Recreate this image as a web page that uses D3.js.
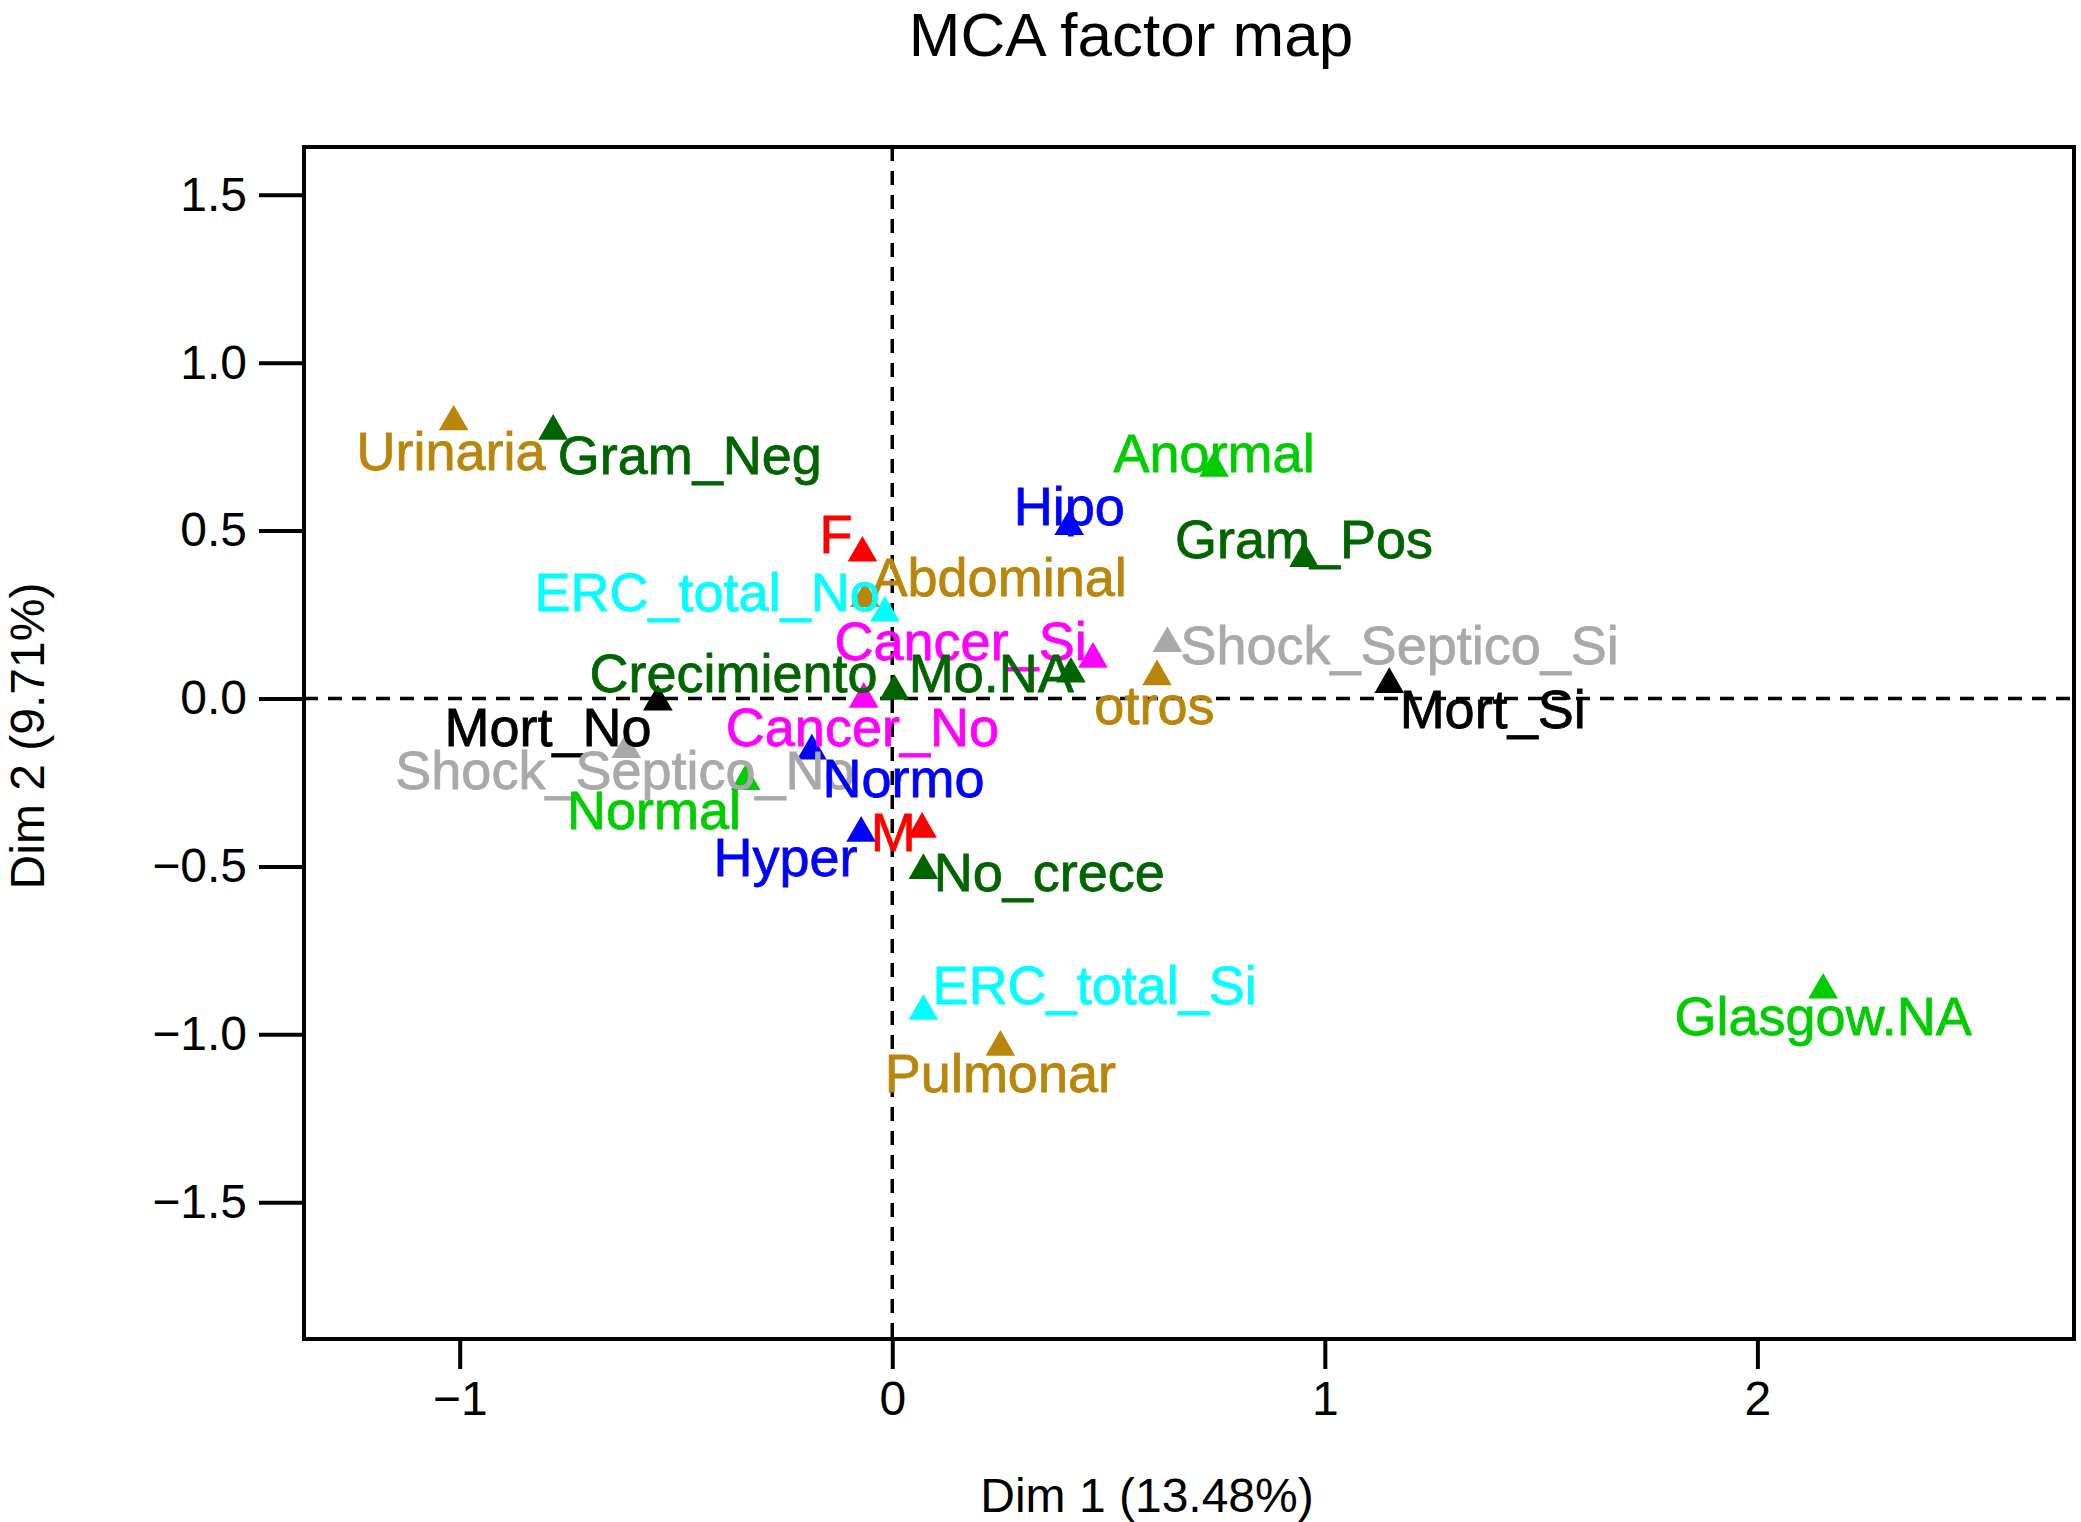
<!DOCTYPE html>
<html lang="en">
<head>
    <meta charset="UTF-8">
    <title>MCA factor map</title>
    <script src="https://d3js.org/d3.v7.min.js"></script>
</head>
<body>
<style>
    body{
        margin: 0;
        background: #fff;
    }
    text{
        font-family: "Liberation Sans", Arial, sans-serif;
    }
</style>

<script>
    // categories of the MCA and their coordinates on Dim 1 / Dim 2
    const categories = ["Urinaria", "Gram_Neg", "Anormal", "Hipo", "Gram_Pos", "F", "Abdominal",
        "ERC_total_No", "Cancer_Si", "Shock_Septico_Si", "Mo.NA", "otros", "Mort_Si", "Crecimiento",
        "Mort_No", "Cancer_No", "Shock_Septico_No", "Normo", "Normal", "Hyper", "M", "No_crece",
        "ERC_total_Si", "Pulmonar", "Glasgow.NA"];
    const variables = ["Foco", "Micro", "Glasgow", "Temp", "Micro", "Sexo", "Foco",
        "ERC", "Cancer", "Shock", "Micro", "Foco", "Mort", "Micro",
        "Mort", "Cancer", "Shock", "Temp", "Glasgow", "Temp", "Sexo", "Micro",
        "ERC", "Foco", "Glasgow"];
    const dim1 = [-1.014, -0.784, 0.744, 0.409, 0.952, -0.069, -0.063,
        -0.017, 0.464, 0.636, 0.413, 0.612, 1.149, 0.005,
        -0.542, -0.066, -0.615, -0.186, -0.339, -0.072, 0.069, 0.072,
        0.072, 0.250, 2.152];
    const dim2 = [0.824, 0.796, 0.686, 0.512, 0.417, 0.433, 0.298,
        0.255, 0.117, 0.164, 0.073, 0.065, 0.042, 0.022,
        -0.010, -0.002, -0.152, -0.156, -0.247, -0.401, -0.389, -0.512,
        -0.931, -1.038, -0.868];
    // where the (auto placed) labels sit, same units
    const labDim1 = [-1.020, -0.468, 0.744, 0.409, 0.952, -0.130, 0.247,
        -0.428, 0.158, 1.173, 0.229, 0.606, 1.388, -0.367,
        -0.796, -0.069, -0.618, 0.026, -0.551, -0.247, 0.002, 0.363,
        0.468, 0.250, 2.152];
    const labDim2 = [0.737, 0.725, 0.733, 0.575, 0.476, 0.492, 0.362,
        0.318, 0.172, 0.160, 0.077, -0.018, -0.030, 0.077,
        -0.085, -0.085, -0.211, -0.235, -0.330, -0.472, -0.397, -0.516,
        -0.852, -1.113, -0.943];

    const xTicks = [-1, 0, 1, 2];
    const yTicks = [-1.5, -1.0, -0.5, 0.0, 0.5, 1.0, 1.5];

    // one colour per variable (FactoMineR palette)
    const colours = {
        Mort: "#000000", Sexo: "#FF0000", Glasgow: "#00CD00", Temp: "#0000FF",
        ERC: "#00FFFF", Cancer: "#FF00FF", Shock: "#A9A9A9", Foco: "#B8860B", Micro: "#006400"
    };

    const W = 2081, H = 1522;
    const box = {left: 304, right: 2074, top: 147, bottom: 1339};

    const x = d3.scaleLinear().domain([-1.36, 2.732]).range([box.left, box.right]);
    const y = d3.scaleLinear().domain([-1.907, 1.642]).range([box.bottom, box.top]);

    let svg = d3.select("body")
        .append("svg")
        .attr("width", W)
        .attr("height", H);

    svg.append("rect").attr("width", W).attr("height", H).attr("fill", "#fff");

    // title + axis titles
    svg.append("text")
        .attr("x", 1131).attr("y", 56)
        .attr("text-anchor", "middle")
        .attr("font-size", 62)
        .text("MCA factor map");

    svg.append("text")
        .attr("x", 1147).attr("y", 1512)
        .attr("text-anchor", "middle")
        .attr("font-size", 48)
        .text("Dim 1 (13.48%)");

    svg.append("text")
        .attr("transform", "translate(44,736) rotate(-90)")
        .attr("text-anchor", "middle")
        .attr("font-size", 48)
        .text("Dim 2 (9.71%)");

    // axes
    const xAxis = d3.axisBottom(x).tickValues(xTicks).tickSize(30).tickPadding(12)
        .tickFormat(d => d3.format("d")(d).replace("-", "\u2212"));
    const yAxis = d3.axisLeft(y).tickValues(yTicks).tickSize(45).tickPadding(12)
        .tickFormat(d => d3.format(".1f")(d).replace("-", "\u2212"));

    let gx = svg.append("g").attr("transform", "translate(0," + box.bottom + ")").call(xAxis);
    let gy = svg.append("g").attr("transform", "translate(" + box.left + ",0)").call(yAxis);
    [gx, gy].forEach(g => {
        g.select(".domain").remove();
        g.selectAll("line").attr("stroke", "#000").attr("stroke-width", 4);
        g.selectAll("text").attr("font-size", 48).attr("fill", "#000")
            .style("font-family", "'Liberation Sans', Arial, sans-serif");
    });

    // dashed zero lines
    svg.append("line")
        .attr("x1", box.left).attr("x2", box.right)
        .attr("y1", y(0)).attr("y2", y(0))
        .attr("stroke", "#000").attr("stroke-width", 3.5).attr("stroke-dasharray", "14,10");
    svg.append("line")
        .attr("x1", x(0)).attr("x2", x(0))
        .attr("y1", box.top).attr("y2", box.bottom)
        .attr("stroke", "#000").attr("stroke-width", 3.5).attr("stroke-dasharray", "14,10");

    const idx = d3.range(categories.length);

    // triangles
    svg.selectAll("path.pt")
        .data(idx)
        .enter()
        .append("path")
        .attr("class", "pt")
        .attr("d", d3.symbol().type(d3.symbolTriangle).size(380))
        .attr("transform", i => "translate(" + x(dim1[i]) + "," + y(dim2[i]) + ")")
        .attr("fill", i => colours[variables[i]]);

    // labels
    svg.selectAll("text.lab")
        .data(idx)
        .enter()
        .append("text")
        .attr("class", "lab")
        .attr("x", i => x(labDim1[i]))
        .attr("y", i => y(labDim2[i]))
        .attr("dy", "0.36em")
        .attr("text-anchor", "middle")
        .attr("font-size", 54)
        .attr("fill", i => colours[variables[i]])
        .attr("stroke", i => colours[variables[i]])
        .attr("stroke-width", 0.8)
        .text(i => categories[i]);

    // frame
    svg.append("rect")
        .attr("x", box.left).attr("y", box.top)
        .attr("width", box.right - box.left).attr("height", box.bottom - box.top)
        .attr("fill", "none").attr("stroke", "#000").attr("stroke-width", 4);
</script>
</body>
</html>
